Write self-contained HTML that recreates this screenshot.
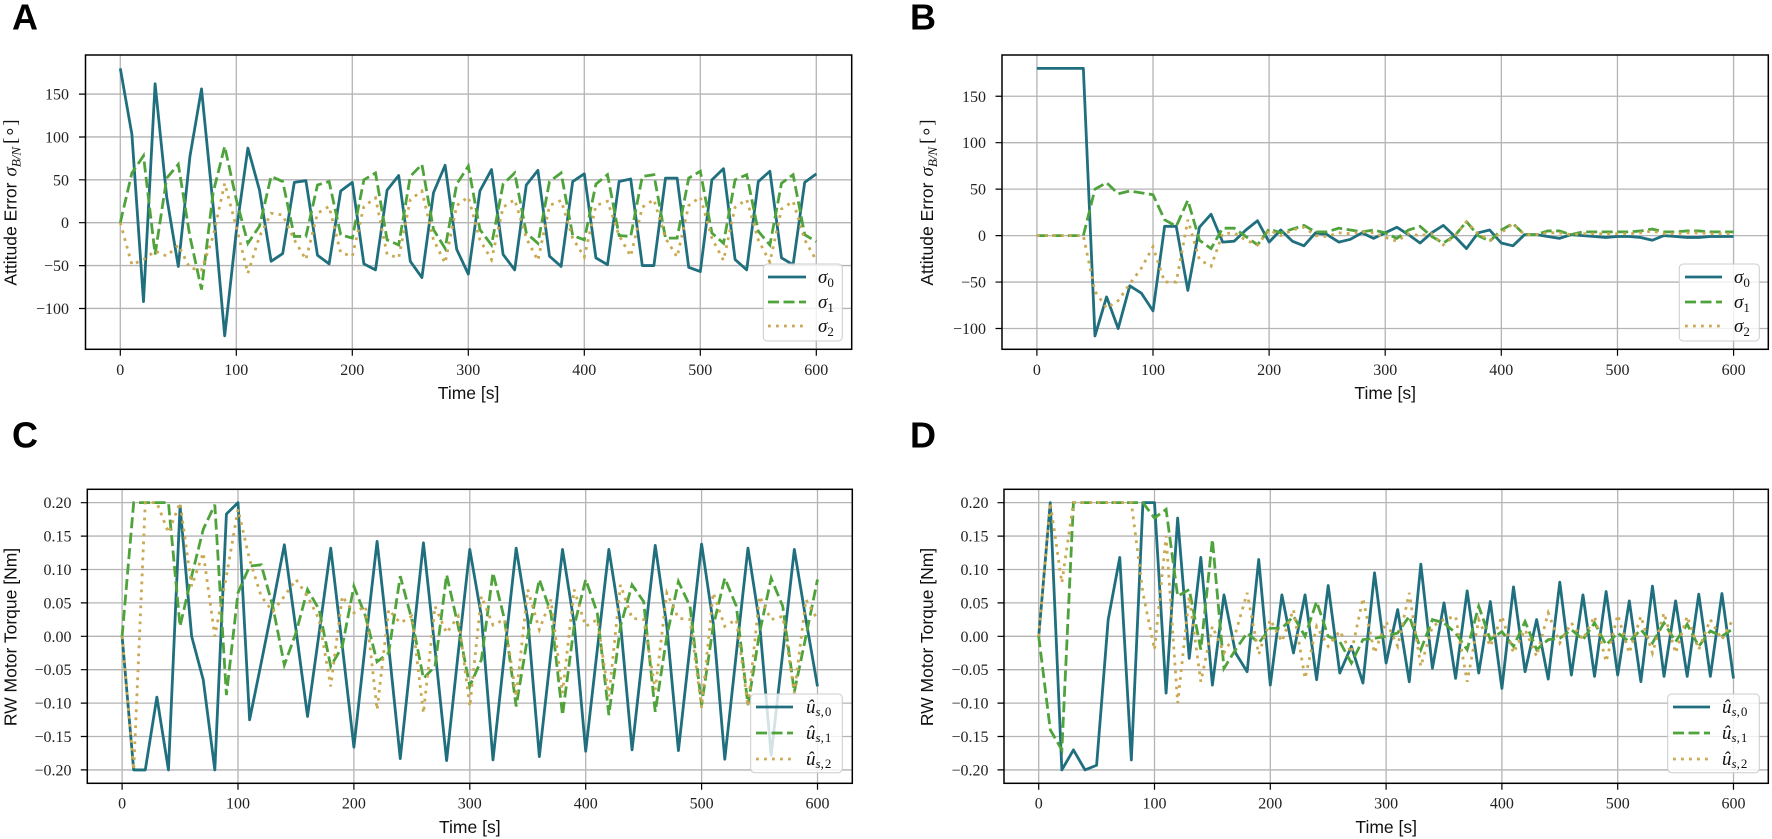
<!DOCTYPE html>
<html><head><meta charset="utf-8"><style>
body{margin:0;background:#fff}
svg{display:block}
.g{stroke:#b4b4b4;stroke-width:1.3;fill:none;vector-effect:non-scaling-stroke}
.s0{stroke:#1f6f7e;stroke-width:2.8;fill:none;stroke-linejoin:round;vector-effect:non-scaling-stroke}
.s1{stroke:#4fa33b;stroke-width:2.8;fill:none;stroke-dasharray:11 4.5;vector-effect:non-scaling-stroke}
.s2{stroke:#c9a952;stroke-width:2.8;fill:none;stroke-dasharray:2.8 5.2;vector-effect:non-scaling-stroke}
.l0{stroke:#1f6f7e;stroke-width:2.8}
.l1{stroke:#4fa33b;stroke-width:2.8;stroke-dasharray:11 4.5}
.l2{stroke:#c9a952;stroke-width:2.8;stroke-dasharray:2.8 5.2}
.tk{stroke:#000;stroke-width:1.2;fill:none}
.sp{stroke:#000;stroke-width:1.5;fill:none}
.tl{font-family:"Liberation Serif",serif;font-size:16px;fill:#222}
.ax{font-family:"Liberation Sans",sans-serif;font-size:17.5px;fill:#111}
.pl{font-family:"Liberation Sans",sans-serif;font-size:36px;font-weight:bold;fill:#000}
.lg{font-family:"Liberation Serif",serif;font-size:19px;font-style:italic;fill:#111}
.leg{fill:#fff;fill-opacity:0.8;stroke:#cccccc;stroke-width:1}
</style></head><body>
<svg width="1772" height="839" xmlns="http://www.w3.org/2000/svg">
<rect width="1772" height="839" fill="#fff"/>

<!-- Panel letters -->
<text class="pl" x="12" y="29.5">A</text>
<text class="pl" x="910" y="29.5">B</text>
<text class="pl" x="12" y="447.5">C</text>
<text class="pl" x="910" y="447.5">D</text>

<!-- ================= PANEL A ================= -->
<g transform="translate(120.3,222.7) scale(1.16,-0.8575)">
<path class="g" d="M0,-147.6V195.6M100,-147.6V195.6M200,-147.6V195.6M300,-147.6V195.6M400,-147.6V195.6M500,-147.6V195.6M600,-147.6V195.6"/>
<path class="g" d="M-30,150H630.5M-30,100H630.5M-30,50H630.5M-30,0H630.5M-30,-50H630.5M-30,-100H630.5"/>
<polyline class="s0" points="0,180 10,103 20,-92 30,162 40,30 50,-51 60,77 70,156 80,20 90,-132 100,-10 110,87 120,38 130,-45 140,-36 150,47 160,49 170,-38 180,-48 190,37 200,47 210,-48 220,-55 230,38 240,55 250,-45 260,-64 270,35 280,67 290,-31 300,-60 310,37 320,62 330,-37 340,-55 350,44 360,61 370,-39 380,-51 390,48 400,57 410,-41 420,-49 430,48 440,51 450,-50 460,-50 470,52 480,52 490,-52 500,-57 510,50 520,63 530,-43 540,-55 550,48 560,60 570,-41 580,-49 590,47 600,57"/>
<polyline class="s1" points="0,0 10,58 20,78 30,-37 40,52 50,68 60,-16 70,-78 80,35 90,89 100,27 110,-24 120,-4 130,54 140,48 150,-16 160,-16 170,44 180,48 190,-14 200,-18 210,50 220,58 230,-20 240,-26 250,54 260,68 270,-8 280,-30 290,45 300,66 310,-8 320,-26 330,45 340,58 350,-12 360,-24 370,48 380,58 390,-15 400,-20 410,45 420,56 430,-15 440,-16 450,54 460,56 470,-18 480,-18 490,52 500,60 510,-12 520,-24 530,50 540,56 550,-10 560,-26 570,46 580,56 590,-14 600,-22"/>
<polyline class="s2" points="0,0 10,-49 20,-43 30,-33 40,-39 50,-26 60,-53 70,-55 80,-16 90,46 100,-5 110,-59 120,-16 130,11 140,9 150,-20 160,-43 170,11 180,19 190,-35 200,-39 210,19 220,29 230,-37 240,-41 250,27 260,37 270,-20 280,-47 290,20 300,30 310,-20 320,-43 330,18 340,27 350,-18 360,-44 370,20 380,26 390,-18 400,-40 410,20 420,25 430,-15 440,-39 450,18 460,27 470,-18 480,-40 490,20 500,30 510,-18 520,-44 530,18 540,27 550,-20 560,-46 570,16 580,25 590,-20 600,-44"/>
</g>
<rect class="sp" x="85.5" y="55" width="766.2" height="294.3"/>
<path class="tk" d="M120.3,349.3v6.5M236.3,349.3v6.5M352.3,349.3v6.5M468.3,349.3v6.5M584.3,349.3v6.5M700.3,349.3v6.5M816.3,349.3v6.5M85.5,94.1h-6.5M85.5,137h-6.5M85.5,179.8h-6.5M85.5,222.7h-6.5M85.5,265.6h-6.5M85.5,308.5h-6.5"/>
<g class="tl" text-anchor="end">
<text x="69" y="99.6">150</text><text x="69" y="142.5">100</text><text x="69" y="185.3">50</text><text x="69" y="228.2">0</text><text x="69" y="271.1">−50</text><text x="69" y="314">−100</text>
</g>
<g class="tl" text-anchor="middle">
<text x="120.3" y="375">0</text><text x="236.3" y="375">100</text><text x="352.3" y="375">200</text><text x="468.3" y="375">300</text><text x="584.3" y="375">400</text><text x="700.3" y="375">500</text><text x="816.3" y="375">600</text>
</g>
<text class="ax" x="468.6" y="399" text-anchor="middle">Time [s]</text>
<text class="ax" transform="translate(16.5,202.5) rotate(-90)" text-anchor="middle">Attitude Error<tspan dx="6" font-family="Liberation Serif" font-style="italic" font-size="19">σ</tspan><tspan font-family="Liberation Serif" font-style="italic" font-size="13" dy="4">B/N</tspan><tspan dx="3" dy="-4" font-family="Liberation Serif" font-size="19">[∘]</tspan></text>
<rect class="leg" x="763.3" y="264" width="79" height="77" rx="4"/>
<line class="l0" x1="768" y1="277" x2="806" y2="277"/>
<line class="l1" x1="768" y1="302" x2="806" y2="302"/>
<line class="l2" x1="768" y1="326" x2="806" y2="326"/>
<text class="lg" x="818" y="283">σ<tspan font-size="13" font-style="normal" dy="4">0</tspan></text>
<text class="lg" x="818" y="308">σ<tspan font-size="13" font-style="normal" dy="4">1</tspan></text>
<text class="lg" x="818" y="332">σ<tspan font-size="13" font-style="normal" dy="4">2</tspan></text>

<!-- ================= PANEL B ================= -->
<g transform="translate(1036.9,235.6) scale(1.1611,-0.929)">
<path class="g" d="M0,-122.4V194.4M100,-122.4V194.4M200,-122.4V194.4M300,-122.4V194.4M400,-122.4V194.4M500,-122.4V194.4M600,-122.4V194.4"/>
<path class="g" d="M-30,150H630M-30,100H630M-30,50H630M-30,0H630M-30,-50H630M-30,-100H630"/>
<polyline class="s0" points="0,180 10,180 20,180 30,180 40,180 50,-108 60,-66 70,-100 80,-54 90,-62 100,-81 110,10 120,10 130,-59 140,9 150,23 160,-7 170,-6 180,6 190,16 200,-7 210,6 220,-6 230,-11 240,3 250,1 260,-7 270,-4 280,3 290,-3 300,3 310,9 320,1 330,-8 340,3 350,11 360,-1 370,-14 380,3 390,6 400,-8 410,-11 420,1 430,1 440,-1 450,-3 460,1 470,0 480,-1 490,-2 500,-1 510,-1 520,-2 530,-5 540,0 550,-1 560,-2 570,-2 580,-1 590,-1 600,-1"/>
<polyline class="s1" points="0,0 10,0 20,0 30,0 40,0 50,50 60,57 70,45 80,48 90,46 100,44 110,17 120,10 130,38 140,-5 150,-14 160,8 170,8 180,-1 190,-10 200,7 210,3 220,7 230,11 240,4 250,4 260,8 270,6 280,4 290,6 300,3 310,-3 320,6 330,10 340,-1 350,-8 360,0 370,15 380,0 390,-6 400,6 410,13 420,1 430,1 440,5 450,5 460,1 470,4 480,4 490,4 500,4 510,4 520,5 530,7 540,4 550,4 560,5 570,5 580,4 590,4 600,4"/>
<polyline class="s2" points="0,0 10,0 20,0 30,0 40,0 50,-60 60,-78 70,-70 80,-52 90,-35 100,-12 110,-50 120,-50 130,17 140,-26 150,-33 160,2 170,3 180,-5 190,-10 200,6 210,0 220,6 230,9 240,0 250,-1 260,3 270,2 280,4 290,3 300,-2 310,-6 320,2 330,0 340,2 350,-10 360,0 370,15 380,2 390,-5 400,3 410,13 420,1 430,1 440,3 450,3 460,1 470,2 480,2 490,2 500,2 510,2 520,3 530,5 540,2 550,2 560,3 570,3 580,2 590,2 600,2"/>
</g>
<rect class="sp" x="1002" y="55" width="766.3" height="294.3"/>
<path class="tk" d="M1036.9,349.3v6.5M1153,349.3v6.5M1269.1,349.3v6.5M1385.2,349.3v6.5M1501.3,349.3v6.5M1617.5,349.3v6.5M1733.6,349.3v6.5M1002,96.25h-6.5M1002,142.7h-6.5M1002,189.15h-6.5M1002,235.6h-6.5M1002,282.05h-6.5M1002,328.5h-6.5"/>
<g class="tl" text-anchor="end">
<text x="986" y="101.75">150</text><text x="986" y="148.2">100</text><text x="986" y="194.65">50</text><text x="986" y="241.1">0</text><text x="986" y="287.55">−50</text><text x="986" y="334">−100</text>
</g>
<g class="tl" text-anchor="middle">
<text x="1036.9" y="375">0</text><text x="1153" y="375">100</text><text x="1269.1" y="375">200</text><text x="1385.2" y="375">300</text><text x="1501.3" y="375">400</text><text x="1617.5" y="375">500</text><text x="1733.6" y="375">600</text>
</g>
<text class="ax" x="1385.2" y="399" text-anchor="middle">Time [s]</text>
<text class="ax" transform="translate(933,202.5) rotate(-90)" text-anchor="middle">Attitude Error<tspan dx="6" font-family="Liberation Serif" font-style="italic" font-size="19">σ</tspan><tspan font-family="Liberation Serif" font-style="italic" font-size="13" dy="4">B/N</tspan><tspan dx="3" dy="-4" font-family="Liberation Serif" font-size="19">[∘]</tspan></text>
<rect class="leg" x="1679.3" y="264" width="80" height="77" rx="4"/>
<line class="l0" x1="1685" y1="277" x2="1722" y2="277"/>
<line class="l1" x1="1685" y1="302" x2="1722" y2="302"/>
<line class="l2" x1="1685" y1="326" x2="1722" y2="326"/>
<text class="lg" x="1734" y="283">σ<tspan font-size="13" font-style="normal" dy="4">0</tspan></text>
<text class="lg" x="1734" y="308">σ<tspan font-size="13" font-style="normal" dy="4">1</tspan></text>
<text class="lg" x="1734" y="332">σ<tspan font-size="13" font-style="normal" dy="4">2</tspan></text>

<!-- ================= PANEL C ================= -->
<g transform="translate(122.1,636.3) scale(1.159,-0.6682)">
<path class="g" d="M0,-220V220M100,-220V220M200,-220V220M300,-220V220M400,-220V220M500,-220V220M600,-220V220"/>
<path class="g" d="M-30,200H630M-30,150H630M-30,100H630M-30,50H630M-30,0H630M-30,-50H630M-30,-100H630M-30,-150H630M-30,-200H630"/>
<polyline class="s0" points="0,0 10,-200 20,-200 30,-91 40,-200 50,195 60,0 70,-65 80,-200 90,183 100,200 110,-125 120,-40 130,47 140,137 150,10 160,-120 170,5 180,132 190,-15 200,-166 210,-10 220,142 230,-15 240,-183 250,-20 260,140 270,-20 280,-186 290,-25 300,130 310,30 320,-185 330,-25 340,132 350,25 360,-180 370,-25 380,130 390,20 400,-172 410,-20 420,130 430,20 440,-170 450,-15 460,136 470,15 480,-171 490,-15 500,138 510,20 520,-184 530,-25 540,132 550,20 560,-178 570,-25 580,130 590,25 600,-75"/>
<polyline class="s1" points="0,0 10,200 20,200 30,200 40,200 50,15 60,90 70,160 80,197 90,-88 100,65 110,105 120,107 130,45 140,-43 150,5 160,70 170,40 180,-45 190,-15 200,75 210,30 220,-38 230,-25 240,90 250,25 260,-63 270,-45 280,92 290,15 300,-75 310,-35 320,95 330,25 340,-105 350,0 360,85 370,35 380,-118 390,15 400,85 410,35 420,-118 430,15 440,77 450,52 460,-113 470,0 480,82 490,45 500,-103 510,15 520,87 530,45 540,-103 550,5 560,87 570,45 580,-83 590,0 600,85"/>
<polyline class="s2" points="0,0 10,-200 20,200 30,200 40,155 50,200 60,75 70,125 80,0 90,90 100,190 110,115 120,60 130,37 140,60 150,85 160,60 170,25 180,-75 190,60 200,35 210,45 220,-110 230,40 240,20 250,30 260,-115 270,45 280,5 290,30 300,-105 310,60 320,17 330,25 340,-90 350,70 360,10 370,55 380,-85 390,70 400,15 410,25 420,-90 430,77 440,27 450,25 460,-80 470,65 480,27 490,25 500,-107 510,65 520,15 530,25 540,-105 550,60 560,25 570,30 580,-85 590,55 600,25"/>
</g>
<rect class="sp" x="87.3" y="489.3" width="765" height="294"/>
<path class="tk" d="M122.1,783.3v6.5M238,783.3v6.5M353.9,783.3v6.5M469.8,783.3v6.5M585.7,783.3v6.5M701.6,783.3v6.5M817.5,783.3v6.5M87.3,502.7h-6.5M87.3,536.1h-6.5M87.3,569.5h-6.5M87.3,602.9h-6.5M87.3,636.3h-6.5M87.3,669.7h-6.5M87.3,703.1h-6.5M87.3,736.5h-6.5M87.3,769.9h-6.5"/>
<g class="tl" text-anchor="end">
<text x="71.5" y="508.2">0.20</text><text x="71.5" y="541.6">0.15</text><text x="71.5" y="575">0.10</text><text x="71.5" y="608.4">0.05</text><text x="71.5" y="641.8">0.00</text><text x="71.5" y="675.2">−0.05</text><text x="71.5" y="708.6">−0.10</text><text x="71.5" y="742">−0.15</text><text x="71.5" y="775.4">−0.20</text>
</g>
<g class="tl" text-anchor="middle">
<text x="122.1" y="808.5">0</text><text x="238" y="808.5">100</text><text x="353.9" y="808.5">200</text><text x="469.8" y="808.5">300</text><text x="585.7" y="808.5">400</text><text x="701.6" y="808.5">500</text><text x="817.5" y="808.5">600</text>
</g>
<text class="ax" x="469.8" y="833" text-anchor="middle">Time [s]</text>
<text class="ax" transform="translate(16.5,637) rotate(-90)" text-anchor="middle">RW Motor Torque [Nm]</text>
<rect class="leg" x="750.7" y="694" width="91.6" height="78.7" rx="4"/>
<line class="l0" x1="756" y1="707" x2="793" y2="707"/>
<line class="l1" x1="756" y1="733" x2="793" y2="733"/>
<line class="l2" x1="756" y1="759" x2="793" y2="759"/>
<text class="lg" x="806" y="713">û<tspan font-size="13" dy="3">s</tspan><tspan font-size="13" font-style="normal">,</tspan><tspan font-size="13" font-style="normal" dx="1">0</tspan></text>
<text class="lg" x="806" y="739">û<tspan font-size="13" dy="3">s</tspan><tspan font-size="13" font-style="normal">,</tspan><tspan font-size="13" font-style="normal" dx="1">1</tspan></text>
<text class="lg" x="806" y="765">û<tspan font-size="13" dy="3">s</tspan><tspan font-size="13" font-style="normal">,</tspan><tspan font-size="13" font-style="normal" dx="1">2</tspan></text>

<!-- ================= PANEL D ================= -->
<g transform="translate(1038.7,636.3) scale(1.158,-0.6682)">
<path class="g" d="M0,-220V220M100,-220V220M200,-220V220M300,-220V220M400,-220V220M500,-220V220M600,-220V220"/>
<path class="g" d="M-30,200H630M-30,150H630M-30,100H630M-30,50H630M-30,0H630M-30,-50H630M-30,-100H630M-30,-150H630M-30,-200H630"/>
<polyline class="s0" points="0,0 10,200 20,-200 30,-170 40,-200 50,-193 60,25 70,118 80,-185 90,200 100,200 110,-85 120,177 130,-33 140,118 150,-73 160,62 170,-25 180,-53 190,115 200,-73 210,62 220,-25 230,62 240,-65 250,76 260,-55 270,-15 280,-70 290,95 300,-40 310,40 320,-68 330,108 340,-48 350,50 360,-63 370,68 380,-55 390,52 400,-78 410,74 420,-53 430,25 440,-64 450,81 460,-58 470,62 480,-60 490,67 500,-58 510,53 520,-68 530,75 540,-60 550,53 560,-60 570,63 580,-60 590,64 600,-63"/>
<polyline class="s1" points="0,0 10,-140 20,-170 30,200 40,200 50,200 60,200 70,200 80,200 90,200 100,177 110,190 120,60 130,70 140,-20 150,145 160,-48 170,-20 180,5 190,-10 200,12 210,12 220,30 230,0 240,52 250,0 260,-8 270,-40 280,-5 290,-3 300,0 310,5 320,30 330,-20 340,25 350,20 360,5 370,-20 380,45 390,-5 400,7 410,-15 420,22 430,-20 440,-5 450,-3 460,10 470,-5 480,20 490,-13 500,5 510,-8 520,10 530,-10 540,20 550,-8 560,18 570,-15 580,8 590,0 600,12"/>
<polyline class="s2" points="0,0 10,200 20,80 30,200 40,200 50,200 60,200 70,200 80,200 90,65 100,-20 110,150 120,-100 130,60 140,-68 150,15 160,-25 170,5 180,65 190,-27 200,25 210,-8 220,40 230,-63 240,15 250,-15 260,8 270,-25 280,57 290,-25 300,22 310,-15 320,65 330,-45 340,15 350,25 360,30 370,-68 380,25 390,-15 400,30 410,-25 420,10 430,-30 440,35 450,-10 460,20 470,-5 480,30 490,-38 500,32 510,-25 520,30 530,-25 540,35 550,-25 560,30 570,-20 580,25 590,-5 600,27"/>
</g>
<rect class="sp" x="1004" y="489.3" width="764.3" height="294"/>
<path class="tk" d="M1038.7,783.3v6.5M1154.5,783.3v6.5M1270.3,783.3v6.5M1386.1,783.3v6.5M1501.9,783.3v6.5M1617.7,783.3v6.5M1733.5,783.3v6.5M1004,502.7h-6.5M1004,536.1h-6.5M1004,569.5h-6.5M1004,602.9h-6.5M1004,636.3h-6.5M1004,669.7h-6.5M1004,703.1h-6.5M1004,736.5h-6.5M1004,769.9h-6.5"/>
<g class="tl" text-anchor="end">
<text x="988.5" y="508.2">0.20</text><text x="988.5" y="541.6">0.15</text><text x="988.5" y="575">0.10</text><text x="988.5" y="608.4">0.05</text><text x="988.5" y="641.8">0.00</text><text x="988.5" y="675.2">−0.05</text><text x="988.5" y="708.6">−0.10</text><text x="988.5" y="742">−0.15</text><text x="988.5" y="775.4">−0.20</text>
</g>
<g class="tl" text-anchor="middle">
<text x="1038.7" y="808.5">0</text><text x="1154.5" y="808.5">100</text><text x="1270.3" y="808.5">200</text><text x="1386.1" y="808.5">300</text><text x="1501.9" y="808.5">400</text><text x="1617.7" y="808.5">500</text><text x="1733.5" y="808.5">600</text>
</g>
<text class="ax" x="1386.2" y="833" text-anchor="middle">Time [s]</text>
<text class="ax" transform="translate(933,637) rotate(-90)" text-anchor="middle">RW Motor Torque [Nm]</text>
<rect class="leg" x="1667.7" y="694" width="91.6" height="78.7" rx="4"/>
<line class="l0" x1="1673" y1="707" x2="1710" y2="707"/>
<line class="l1" x1="1673" y1="733" x2="1710" y2="733"/>
<line class="l2" x1="1673" y1="759" x2="1710" y2="759"/>
<text class="lg" x="1722" y="713">û<tspan font-size="13" dy="3">s</tspan><tspan font-size="13" font-style="normal">,</tspan><tspan font-size="13" font-style="normal" dx="1">0</tspan></text>
<text class="lg" x="1722" y="739">û<tspan font-size="13" dy="3">s</tspan><tspan font-size="13" font-style="normal">,</tspan><tspan font-size="13" font-style="normal" dx="1">1</tspan></text>
<text class="lg" x="1722" y="765">û<tspan font-size="13" dy="3">s</tspan><tspan font-size="13" font-style="normal">,</tspan><tspan font-size="13" font-style="normal" dx="1">2</tspan></text>
</svg>
</body></html>
